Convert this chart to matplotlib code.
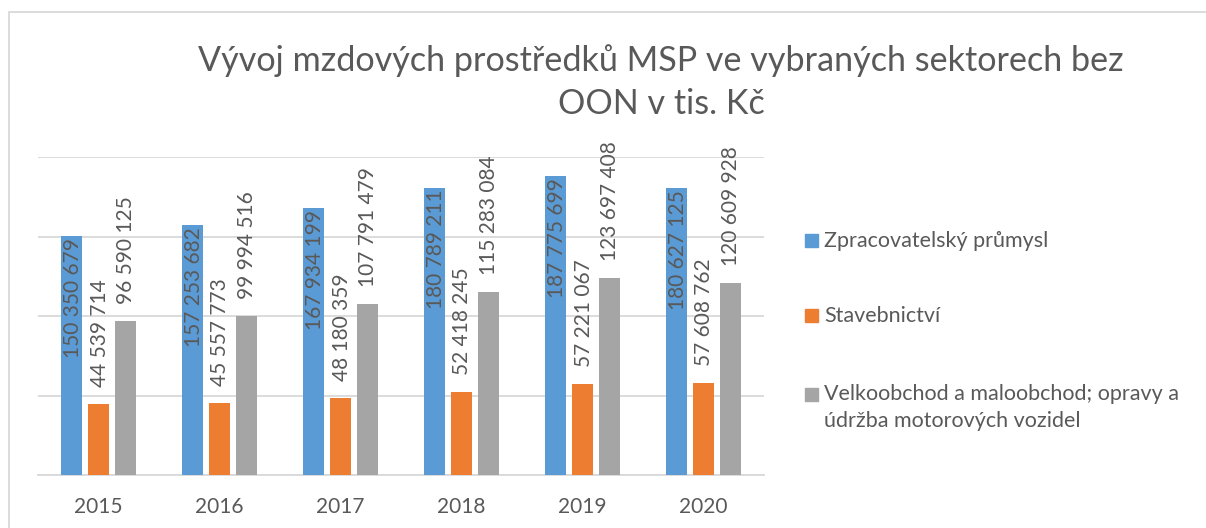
import matplotlib.pyplot as plt
import numpy as np
from matplotlib.patches import Rectangle

years = ['2015', '2016', '2017', '2018', '2019', '2020']
zpracovatelsky = [150350679, 157253682, 167934199, 180789211, 187775699, 180627125]
stavebnictvi = [44539714, 45557773, 48180359, 52418245, 57221067, 57608762]
velkoobchod = [96590125, 99994516, 107791479, 115283084, 123697408, 120609928]

series_names = ['Zpracovatelský průmysl', 'Stavebnictví',
                'Velkoobchod a maloobchod; opravy a\núdržba motorových vozidel']
colors = ['#5B9BD5', '#ED7D31', '#A5A5A5']
text_col = '#595959'

plt.rcParams['font.family'] = ['Lato', 'DejaVu Sans']

def fmt(v):
    return f'{v:,}'.replace(',', ' ')

fig = plt.figure(figsize=(12.06, 5.28), dpi=100)
W, H = 1206, 528
ax = fig.add_axes([38 / W, 1 - 475 / H, (764 - 38) / W, (475 - 157) / H])

x = np.arange(len(years))
step = 0.223
width = 0.174
all_series = [zpracovatelsky, stavebnictvi, velkoobchod]
for i, (vals, c) in enumerate(zip(all_series, colors)):
    pos = x + (i - 1) * step
    ax.bar(pos, vals, width=width, color=c, zorder=3)
    for px, v in zip(pos, vals):
        if i == 0:
            ax.annotate(fmt(v), (px, v), xytext=(1, -2), textcoords='offset pixels',
                        rotation=90, ha='center', va='top', fontsize=15,
                        color=text_col, zorder=4)
        else:
            ax.annotate(fmt(v), (px, v), xytext=(1, 17), textcoords='offset pixels',
                        rotation=90, ha='center', va='bottom', fontsize=15,
                        color=text_col, zorder=4, annotation_clip=False)

ax.set_xlim(-0.5, len(years) - 0.5)
ax.set_ylim(0, 200000000)
ax.set_yticks(np.arange(0, 200000001, 50000000))
ax.yaxis.grid(True, color='#D9D9D9', linewidth=1.3, zorder=0)
ax.tick_params(axis='y', left=False, labelleft=False)
ax.tick_params(axis='x', bottom=False, labelsize=15, labelcolor=text_col, pad=12)
ax.set_xticks(x)
ax.set_xticklabels(years)
for s in ['top', 'right', 'left']:
    ax.spines[s].set_visible(False)
ax.spines['bottom'].set_color('#D9D9D9')
ax.spines['bottom'].set_linewidth(1.3)

fig.text(661 / W, 1 - 82 / H, 'Vývoj mzdových prostředků MSP ve vybraných sektorech bez\nOON v tis. Kč',
         ha='center', va='center', fontsize=24.6, color=text_col,
         linespacing=1.4)

# legend
leg_y = [241, 316, 395]
for name, c, ly in zip(series_names, colors, leg_y):
    fig.patches.append(Rectangle((805 / W, 1 - (ly + 6) / H), 13 / W, 13 / H,
                                 transform=fig.transFigure, color=c))
    fig.text(824 / W, 1 - (ly - 11 if '\n' in name else ly) / H, name, ha='left',
             va='top' if '\n' in name else 'center',
             fontsize=15.5, color=text_col, linespacing=1.45)

# chart frame
fig.patches.append(Rectangle((8.5 / W, -0.1), 1.2, 1 - 12.5 / H + 0.1,
                             transform=fig.transFigure, fill=False,
                             edgecolor='#D9D9D9', linewidth=1.3))

fig.savefig('out.png', dpi=100)
